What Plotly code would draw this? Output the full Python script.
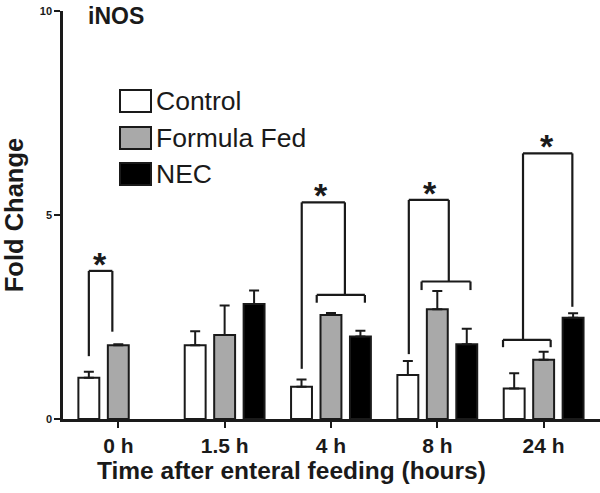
import plotly.graph_objects as go

categories = ["0 h", "1.5 h", "4 h", "8 h", "24 h"]
control = [1.01, 1.81, 0.79, 1.08, 0.75]
control_err = [0.15, 0.34, 0.18, 0.34, 0.37]
formula = [1.81, 2.06, 2.55, 2.69, 1.45]
formula_err = [0.02, 0.72, 0.05, 0.45, 0.20]
nec = [None, 2.82, 2.02, 1.83, 2.48]
nec_err = [0, 0.33, 0.14, 0.38, 0.11]
y_ticks = [0, 5, 10]

FONT = "Liberation Sans, Arial, sans-serif"
LINE = "#1a1a1a"

fig = go.Figure()
series = [
    ("Control", control, control_err, "white"),
    ("Formula Fed", formula, formula_err, "#a9a9a9"),
    ("NEC", nec, nec_err, "black"),
]
for name, vals, err, col in series:
    fig.add_trace(go.Bar(
        name=name, x=categories, y=vals,
        marker=dict(color=col, line=dict(color=LINE, width=2)),
        error_y=dict(type="data", symmetric=False, array=err,
                     arrayminus=[0] * len(err), color=LINE, thickness=2, width=5),
        showlegend=False,
    ))

# significance brackets (group index, x offsets, heights)
OFF = 0.277
def seg(x0, y0, x1, y1):
    fig.add_shape(type="line", xref="x", yref="y", x0=x0, y0=y0, x1=x1, y1=y1,
                  line=dict(color=LINE, width=2.2))

def star(x, y):
    fig.add_annotation(x=x, y=y, xref="x", yref="y", text="<b>*</b>", showarrow=False,
                       font=dict(family=FONT, size=34, color=LINE), yanchor="bottom", yshift=-14)

# 0 h: control vs formula
g = 0
seg(g - OFF, 1.54, g - OFF, 3.63); seg(g - OFF, 3.63, g - 0.056, 3.63); seg(g - 0.056, 3.63, g - 0.056, 2.14)
star(g - 0.169, 3.63)

# 4 h & 8 h: control vs (formula, NEC)
for g, top, lb, sub_y, sub_b, l, r, s0, s1 in [
    (2, 5.31, 1.23, 3.04, 2.85, 1.725, 2.131, 1.866, 2.319),
    (3, 5.37, 1.59, 3.37, 3.16, 2.732, 3.108, 2.852, 3.312),
]:
    seg(l, lb, l, top); seg(l, top, r, top); seg(r, top, r, sub_y)
    seg(s0, sub_y, s1, sub_y); seg(s0, sub_y, s0, sub_b); seg(s1, sub_y, s1, sub_b)
    star((l + r) / 2 - 0.02 if g == 2 else l + 0.2, top)

# 24 h: (control, formula) vs NEC
l, r, top = 3.806, 4.27, 6.51
seg(l, 1.94, l, top); seg(l, top, r, top); seg(r, top, r, 2.75)
seg(3.618, 1.94, 4.066, 1.94); seg(3.618, 1.94, 3.618, 1.76); seg(4.066, 1.94, 4.066, 1.76)
star(4.035, top)

# custom legend
W, H = 537.0, 408.0
def px(x):
    return (x - 63) / W
def py(y):
    return (419 - y) / H
for (name, _, _, col), (y0, y1) in zip(series, [(90, 112), (127, 149), (163, 185)]):
    fig.add_shape(type="rect", xref="paper", yref="paper", x0=px(120), x1=px(151),
                  y0=py(y1), y1=py(y0), fillcolor=col, line=dict(color=LINE, width=2))
    fig.add_annotation(xref="paper", yref="paper", x=px(154), y=py((y0 + y1) / 2),
                       text=name, showarrow=False, xanchor="left", yanchor="middle",
                       font=dict(family=FONT, size=26.5, color=LINE))

fig.add_annotation(xref="paper", yref="paper", x=px(86), y=py(16), text="<b>iNOS</b>",
                   showarrow=False, xanchor="left", yanchor="middle",
                   font=dict(family=FONT, size=23, color=LINE))

# x-axis title (offset to the left as in the original)
fig.add_annotation(xref="paper", yref="paper", x=px(291), y=py(470),
                   text="<b>Time after enteral feeding (hours)</b>", showarrow=False,
                   xanchor="center", yanchor="middle",
                   font=dict(family=FONT, size=24.5, color=LINE))

fig.update_layout(
    width=600, height=493,
    margin=dict(l=63, r=0, t=11, b=74),
    paper_bgcolor="white", plot_bgcolor="white",
    barmode="group", bargap=0.169, bargroupgap=0.29,
    font=dict(family=FONT, color=LINE),
)
fig.update_xaxes(
    type="category", range=[-0.52, 4.53], showline=True, linecolor=LINE, linewidth=2.5,
    ticks="outside", ticklen=6, tickwidth=2, tickcolor=LINE,
    tickfont=dict(family=FONT, size=21, color=LINE),
    tickvals=categories, ticktext=[f"<b>{c}</b>" for c in categories],
    showgrid=False, zeroline=False,
)
fig.update_yaxes(
    range=[0, 10], showline=True, linecolor=LINE, linewidth=2.5,
    ticks="outside", ticklen=6, tickwidth=2, tickcolor=LINE,
    tickvals=y_ticks, ticktext=[f"<b>{t}</b>" for t in y_ticks],
    tickfont=dict(family=FONT, size=11, color=LINE),
    title=dict(text="<b>Fold Change</b>", standoff=14,
               font=dict(family=FONT, size=25.5, color=LINE)),
    showgrid=False, zeroline=False,
)

fig.write_html("out.html", config={"displayModeBar": False},
               post_script="document.body.style.margin='0';")
